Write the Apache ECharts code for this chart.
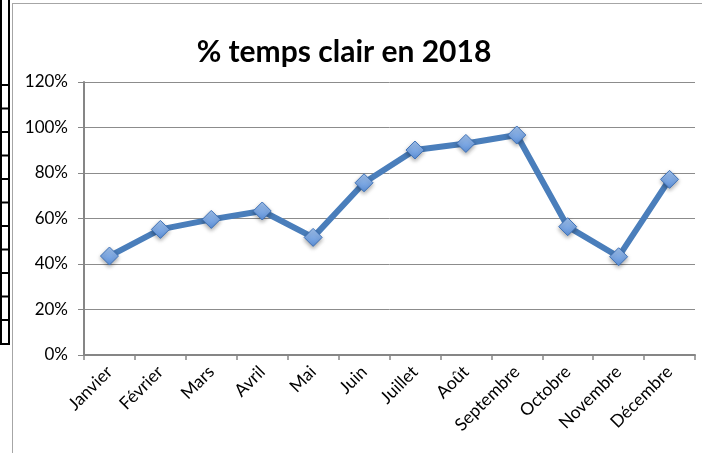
<!DOCTYPE html>
<html>
<head>
<meta charset="utf-8">
<script src="https://cdn.jsdelivr.net/npm/echarts@6/dist/echarts.min.js"></script>
<style>
  html, body { margin: 0; padding: 0; background: #fff; }
  #chart { width: 702px; height: 453px; }
</style>
</head>
<body>
<div id="chart"></div>
<script>
const months = ['Janvier', 'Février', 'Mars', 'Avril', 'Mai', 'Juin', 'Juillet', 'Août', 'Septembre', 'Octobre', 'Novembre', 'Décembre'];
const clearPct = [43.5, 55.2, 59.6, 63.3, 51.7, 75.7, 90.1, 93.0, 96.7, 56.4, 43.2, 77.2];
const tableRows = [85, 108.5, 132, 155.5, 179, 202.5, 226, 249.5, 273, 296.5, 320, 344];

const myChart = echarts.init(document.getElementById('chart'));

// bout de tableau coupé à gauche + bord du cadre du graphique
const decor = [
    { type: 'line', shape: { x1: 9, y1: 0, x2: 9, y2: 345 }, style: { stroke: '#000', lineWidth: 2 } },
    { type: 'line', shape: { x1: 1, y1: 0, x2: 1, y2: 345 }, style: { stroke: '#000', lineWidth: 2 } },
    { type: 'line', shape: { x1: 12.5, y1: 3, x2: 12.5, y2: 453 }, style: { stroke: '#a6a6a6', lineWidth: 1 } },
    { type: 'line', shape: { x1: 12, y1: 3.5, x2: 702, y2: 3.5 }, style: { stroke: '#a6a6a6', lineWidth: 1 } }
];
tableRows.forEach(function (y) {
    decor.push({ type: 'line', shape: { x1: 0, y1: y, x2: 10, y2: y }, style: { stroke: '#000', lineWidth: 2 } });
});

const option = {
    animation: false,
    textStyle: { fontFamily: 'Lato, sans-serif' },
    title: {
        text: '% temps clair en 2018',
        left: 339,
        top: 32,
        textAlign: 'center',
        textStyle: { fontFamily: 'Lato', fontWeight: 'bold', fontSize: 30, color: '#000' }
    },
    graphic: decor,
    grid: { left: 84, right: 7, top: 82, bottom: 98 },
    xAxis: {
        type: 'category',
        data: months,
        boundaryGap: true,
        axisLine: { show: true, lineStyle: { color: '#868686', width: 2 } },
        axisTick: { show: true, length: 5, lineStyle: { color: '#868686', width: 1.5 } },
        axisLabel: { rotate: 45, color: '#000', fontSize: 17.5, margin: 14, interval: 0 },
        splitLine: { show: false }
    },
    yAxis: {
        type: 'value',
        min: 0,
        max: 120,
        interval: 20,
        axisLine: { show: true, lineStyle: { color: '#868686', width: 2 } },
        axisTick: { show: true, length: 6, lineStyle: { color: '#868686' } },
        axisLabel: { color: '#000', fontSize: 17, margin: 16, formatter: '{value}%' },
        splitLine: { show: true, lineStyle: { color: '#8c8c8c', width: 1 } }
    },
    series: [
        {
            name: '% temps clair',
            type: 'line',
            data: clearPct,
            lineStyle: { color: '#4a7ebb', width: 6 },
            symbol: 'diamond',
            symbolSize: 18,
            itemStyle: {
                color: new echarts.graphic.LinearGradient(0, 0, 0, 1, [
                    { offset: 0, color: '#a3c4ef' },
                    { offset: 1, color: '#5b8fd8' }
                ]),
                borderColor: '#3f72b8',
                borderWidth: 1,
                shadowColor: 'rgba(0,0,0,0.35)',
                shadowBlur: 4,
                shadowOffsetY: 2
            }
        }
    ]
};
option && myChart.setOption(option);
</script>
</body>
</html>
